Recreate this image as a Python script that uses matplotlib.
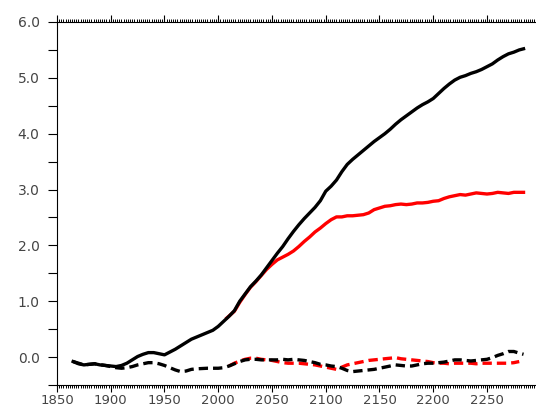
import matplotlib
matplotlib.use('Agg')
import matplotlib.pyplot as plt
from matplotlib.ticker import MultipleLocator, FormatStrFormatter

# black solid
yr_k = [1865, 1870, 1875, 1880, 1885, 1890, 1895, 1900, 1905, 1910, 1915, 1920, 1925, 1930,
        1935, 1940, 1945, 1950, 1955, 1960, 1965, 1970, 1975, 1980, 1985, 1990, 1995, 2000,
        2005, 2010, 2015, 2020, 2025, 2030, 2035, 2040, 2045, 2050, 2055, 2060, 2065, 2070,
        2075, 2080, 2085, 2090, 2095, 2100, 2105, 2110, 2115, 2120, 2125, 2130, 2135, 2140,
        2145, 2150, 2155, 2160, 2165, 2170, 2175, 2180, 2185, 2190, 2195, 2200, 2205, 2210,
        2215, 2220, 2225, 2230, 2235, 2240, 2245, 2250, 2255, 2260, 2265, 2270, 2275, 2280, 2284]
val_k = [-0.08, -0.12, -0.14, -0.13, -0.12, -0.14, -0.15, -0.16, -0.17, -0.15, -0.11, -0.05,
         0.01, 0.05, 0.08, 0.08, 0.06, 0.04, 0.09, 0.14, 0.20, 0.26, 0.32, 0.36, 0.40, 0.44,
         0.48, 0.55, 0.64, 0.73, 0.83, 1.00, 1.13, 1.26, 1.36, 1.47, 1.60, 1.73, 1.86, 1.98,
         2.12, 2.25, 2.37, 2.48, 2.58, 2.68, 2.80, 2.97, 3.06, 3.17, 3.32, 3.45, 3.54, 3.62,
         3.70, 3.78, 3.86, 3.93, 4.00, 4.08, 4.17, 4.25, 4.32, 4.39, 4.46, 4.52, 4.57, 4.63,
         4.72, 4.81, 4.89, 4.96, 5.01, 5.04, 5.08, 5.11, 5.15, 5.20, 5.25, 5.32, 5.38, 5.43,
         5.46, 5.50, 5.52]

# red solid
yr_r = [2008, 2015, 2020, 2025, 2030, 2035, 2040, 2045, 2050, 2055, 2060, 2065, 2070, 2075,
        2080, 2085, 2090, 2095, 2100, 2105, 2110, 2115, 2120, 2125, 2130, 2135, 2140, 2145,
        2150, 2155, 2160, 2165, 2170, 2175, 2180, 2185, 2190, 2195, 2200, 2205, 2210, 2215,
        2220, 2225, 2230, 2235, 2240, 2245, 2250, 2255, 2260, 2265, 2270, 2275, 2280, 2284]
val_r = [0.70, 0.82, 0.98, 1.12, 1.25, 1.35, 1.46, 1.57, 1.66, 1.74, 1.79, 1.84, 1.90, 1.98,
         2.07, 2.15, 2.24, 2.31, 2.39, 2.46, 2.51, 2.51, 2.53, 2.53, 2.54, 2.55, 2.58, 2.64,
         2.67, 2.70, 2.71, 2.73, 2.74, 2.73, 2.74, 2.76, 2.76, 2.77, 2.79, 2.80, 2.84, 2.87,
         2.89, 2.91, 2.90, 2.92, 2.94, 2.93, 2.92, 2.93, 2.95, 2.94, 2.93, 2.95, 2.95, 2.95]

# black dashed
yr_kd = [1865, 1875, 1885, 1895, 1905, 1910, 1915, 1920, 1925, 1930, 1935, 1940, 1945, 1950,
         1955, 1960, 1965, 1970, 1975, 1980, 1990, 2000, 2005, 2010, 2015, 2020, 2025, 2030,
         2035, 2040, 2045, 2050, 2055, 2060, 2065, 2070, 2075, 2080, 2085, 2090, 2095, 2100,
         2105, 2110, 2115, 2120, 2125, 2130, 2135, 2140, 2145, 2150, 2155, 2160, 2165, 2170,
         2175, 2180, 2185, 2190, 2195, 2200, 2205, 2210, 2215, 2220, 2225, 2230, 2235, 2240,
         2245, 2250, 2255, 2260, 2265, 2270, 2275, 2280, 2284]
val_kd = [-0.08, -0.14, -0.12, -0.15, -0.19, -0.20, -0.19, -0.17, -0.14, -0.12, -0.10, -0.10,
          -0.12, -0.15, -0.19, -0.23, -0.26, -0.25, -0.22, -0.21, -0.20, -0.20, -0.19, -0.16,
          -0.12, -0.08, -0.05, -0.04, -0.04, -0.05, -0.05, -0.05, -0.05, -0.04, -0.05, -0.04,
          -0.05, -0.06, -0.08, -0.10, -0.13, -0.14, -0.16, -0.17, -0.20, -0.24, -0.26, -0.25,
          -0.24, -0.23, -0.22, -0.20, -0.18, -0.16, -0.14, -0.15, -0.16, -0.16, -0.14, -0.12,
          -0.11, -0.11, -0.10, -0.09, -0.07, -0.05, -0.05, -0.06, -0.07, -0.06, -0.05, -0.04,
          -0.01, 0.03, 0.06, 0.10, 0.10, 0.07, 0.05]

# red dashed
yr_rd = [2010, 2015, 2020, 2025, 2030, 2035, 2040, 2045, 2050, 2055, 2060, 2065, 2070, 2075,
         2080, 2085, 2090, 2095, 2100, 2105, 2110, 2115, 2120, 2125, 2130, 2135, 2140, 2145,
         2150, 2155, 2160, 2165, 2170, 2175, 2180, 2185, 2190, 2195, 2200, 2205, 2210, 2215,
         2220, 2225, 2230, 2235, 2240, 2245, 2250, 2255, 2260, 2265, 2270, 2275, 2280]
val_rd = [-0.16, -0.11, -0.07, -0.04, -0.02, -0.02, -0.04, -0.05, -0.06, -0.08, -0.10, -0.11,
          -0.11, -0.11, -0.12, -0.13, -0.14, -0.16, -0.18, -0.20, -0.22, -0.18, -0.14, -0.12,
          -0.10, -0.08, -0.06, -0.05, -0.04, -0.03, -0.02, -0.01, -0.03, -0.04, -0.05, -0.06,
          -0.07, -0.08, -0.10, -0.11, -0.11, -0.12, -0.11, -0.11, -0.11, -0.11, -0.12, -0.11,
          -0.11, -0.11, -0.11, -0.11, -0.11, -0.10, -0.08]

fig = plt.figure(figsize=(5.36, 4.09), dpi=100)
ax = fig.add_axes([57 / 536, 24 / 409, 1 - 57 / 536, 363 / 409])

lw = 2.4
ax.plot(yr_r, val_r, color='red', lw=lw)
ax.plot(yr_k, val_k, color='black', lw=lw)
ax.plot(yr_rd, val_rd, color='red', lw=lw, dashes=[2.8, 1.5])
ax.plot(yr_kd, val_kd, color='black', lw=lw, dashes=[2.8, 1.5])

ax.set_xlim(1850, 2295.6)
ax.set_ylim(-0.5, 6.0)

ax.spines['right'].set_visible(False)
for s in ['left', 'top', 'bottom']:
    ax.spines[s].set_linewidth(0.8)

ax.xaxis.set_major_locator(MultipleLocator(50))
ax.xaxis.set_minor_locator(MultipleLocator(2))
ax.yaxis.set_major_locator(MultipleLocator(1.0))
ax.yaxis.set_minor_locator(MultipleLocator(0.5))
ax.yaxis.set_major_formatter(FormatStrFormatter('%.1f'))

ax.tick_params(axis='x', which='major', direction='out', length=5, width=0.8,
               top=True, pad=1.5, labelsize=9.5, labelcolor='#444444')
ax.tick_params(axis='x', which='minor', direction='out', length=2.2, width=0.7, top=True)
ax.tick_params(axis='y', which='both', direction='out', length=6.5, width=0.8,
               right=False, pad=6, labelsize=10, labelcolor='#444444')

plt.savefig('out.png', dpi=100)
